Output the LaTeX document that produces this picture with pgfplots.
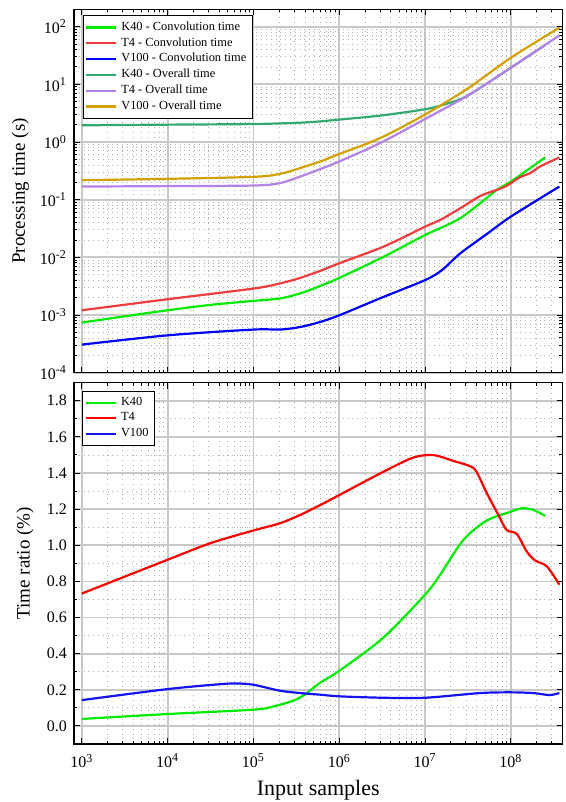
\documentclass[border=0pt]{standalone}
\usepackage{pgfplots}
\pgfplotsset{compat=1.18}
\usepackage{fontspec}
\setmainfont{Liberation Serif}
\definecolor{kconv}{RGB}{0,235,0}
\definecolor{tconv}{RGB}{240,60,60}
\definecolor{vconv}{RGB}{0,0,250}
\definecolor{kall}{RGB}{50,170,110}
\definecolor{tall}{RGB}{180,130,230}
\definecolor{vall}{RGB}{210,160,0}
\definecolor{kr}{RGB}{0,235,0}
\definecolor{tr}{RGB}{250,0,0}
\definecolor{vr}{RGB}{20,20,240}
\definecolor{majgrid}{RGB}{200,200,200}
\definecolor{mingrid}{RGB}{175,175,175}
\pgfplotsset{
  scale only axis, width=244.25pt,
  xmin=810, xmax=4e8,
  axis line style={line width=0.75pt},
  tick style={black, line width=0.5pt},
  major tick length=3pt, minor tick length=1.6pt,
  tick align=inside,
  grid=both,
  major grid style={majgrid, line width=0.9pt},
  minor grid style={mingrid, dotted, line width=0.45pt},
  tick label style={font=\fontsize{8}{9}\selectfont},
  label style={font=\fontsize{9.5}{11}\selectfont},
  legend cell align=left,
  legend style={draw=black, line width=0.5pt, font=\fontsize{6.2}{7}\selectfont, inner sep=1pt, row sep=-1.9pt},
  legend image code/.code={\draw[#1] (0pt,0pt) -- (15pt,0pt);},
  xtick={1e3,1e4,1e5,1e6,1e7,1e8},
  minor xtick={2e3,3e3,4e3,5e3,6e3,7e3,8e3,9e3,2e4,3e4,4e4,5e4,6e4,7e4,8e4,9e4,2e5,3e5,4e5,5e5,6e5,7e5,8e5,9e5,2e6,3e6,4e6,5e6,6e6,7e6,8e6,9e6,2e7,3e7,4e7,5e7,6e7,7e7,8e7,9e7,2e8,3e8},
  every axis plot/.append style={line width=1.1pt, smooth},
}
\begin{document}
\begin{tikzpicture}
\begin{axis}[xmode=log, log basis x=10, ymode=log, log basis y=10,
  at={(37pt,-4.65pt)}, anchor=north west, height=181.7pt,
  ymin=1e-4, ymax=200,
  ytick={1e-4,1e-3,1e-2,1e-1,1,10,100},
  minor ytick={2e-4,3e-4,4e-4,5e-4,6e-4,7e-4,8e-4,9e-4,2e-3,3e-3,4e-3,5e-3,6e-3,7e-3,8e-3,9e-3,2e-2,3e-2,4e-2,5e-2,6e-2,7e-2,8e-2,9e-2,0.2,0.3,0.4,0.5,0.6,0.7,0.8,0.9,2,3,4,5,6,7,8,9,20,30,40,50,60,70,80,90},
  yticklabels={10\textsuperscript{-4},10\textsuperscript{-3},10\textsuperscript{-2},10\textsuperscript{-1},10\textsuperscript{0},10\textsuperscript{1},10\textsuperscript{2}},
  xticklabels={},
  ylabel={Processing time (s)},
  ylabel style={at={(axis description cs:-0.11,0.5)}, anchor=center},
  legend style={at={(0,1)}, anchor=north west, xshift=4.3pt, yshift=-2.9pt}]
\addplot[kconv] table {
1000 7.4e-4
3162 9.5e-4
1e4 1.21e-3
3.16e4 1.5e-3
1e5 1.76e-3
2.04e5 1.94e-3
3.5e5 2.37e-3
6.02e5 3.2e-3
1e6 4.4e-3
3.27e6 1.02e-2
1e7 2.44e-2
1.5e7 3.2e-2
2.57e7 4.77e-2
4.4e7 8.7e-2
6.87e7 0.148
1e8 0.206
1.68e8 0.352
2.51e8 0.54
};
\addlegendentry{K40 - Convolution time}
\addplot[tconv] table {
1000 1.21e-3
1e4 1.88e-3
1e5 2.88e-3
2.04e5 3.53e-3
3.5e5 4.4e-3
6.02e5 5.85e-3
1e6 7.9e-3
3.27e6 1.53e-2
1e7 3.4e-2
1.5e7 4.45e-2
2.57e7 7.1e-2
4.4e7 0.116
6.87e7 0.148
8.97e7 0.174
1.28e8 0.246
1.68e8 0.288
2.19e8 0.376
3.68e8 0.54
};
\addlegendentry{T4 - Convolution time}
\addplot[vconv] table {
1000 3.07e-4
1e4 4.45e-4
1e5 5.6e-4
2.04e5 5.6e-4
3.5e5 6.2e-4
6.02e5 7.6e-4
1e6 9.9e-4
3.27e6 2.06e-3
1e7 4.03e-3
1.57e7 6.0e-3
2.57e7 1.17e-2
5.25e7 2.54e-2
1e8 5.09e-2
3.68e8 0.169
};
\addlegendentry{V100 - Convolution time}
\addplot[kall] table {
1000 1.95
1e4 2.0
1e5 2.05
3.16e5 2.15
6.02e5 2.28
1e6 2.45
3.0e6 2.87
1e7 3.7
1.78e7 4.6
3.16e7 6.4
1e8 19.4
2.51e8 48
};
\addlegendentry{K40 - Overall time}
\addplot[tall] table {
1000 0.169
1e4 0.172
1e5 0.176
2.04e5 0.194
3.5e5 0.252
6.02e5 0.34
1e6 0.46
3.0e6 0.96
1e7 2.5
3.16e7 6.4
1e8 19.4
3.68e8 70.6
};
\addlegendentry{T4 - Overall time}
\addplot[vall] table {
1000 0.218
1e4 0.23
1e5 0.249
2.04e5 0.28
3.5e5 0.353
6.02e5 0.46
1e6 0.62
3.0e6 1.17
1e7 3.0
3.16e7 8.5
1e8 28.9
3.68e8 96
};
\addlegendentry{V100 - Overall time}
\end{axis}
\begin{axis}[xmode=log, log basis x=10,
  at={(37pt,-191.35pt)}, anchor=north west, height=180.65pt,
  ymin=-0.1, ymax=1.9,
  ytick={0,0.2,0.4,0.6,0.8,1.0,1.2,1.4,1.6,1.8},
  minor ytick={-0.1,0.1,0.3,0.5,0.7,0.9,1.1,1.3,1.5,1.7},
  yticklabels={0.0,0.2,0.4,0.6,0.8,1.0,1.2,1.4,1.6,1.8},
  xticklabels={10\textsuperscript{3},10\textsuperscript{4},10\textsuperscript{5},10\textsuperscript{6},10\textsuperscript{7},10\textsuperscript{8}},
  xticklabel style={yshift=-1.5pt},
  xlabel={Input samples},
  xlabel style={font=\fontsize{11}{13}\selectfont, at={(axis description cs:0.5,-0.127)}, anchor=center},
  ylabel={Time ratio (\%)},
  ylabel style={at={(axis description cs:-0.1,0.5)}, anchor=center},
  legend style={at={(0,1)}, anchor=north west, xshift=4.15pt, yshift=-4pt}]
\addplot[kr] table {
1000 0.0386
1e4 0.066
1e5 0.09
1.71e5 0.108
2.92e5 0.14
4.0e5 0.175
6.02e5 0.24
1e6 0.305
3.27e6 0.489
1e7 0.727
1.5e7 0.837
2.8e7 1.03
5.25e7 1.137
1e8 1.186
1.34e8 1.205
1.83e8 1.196
2.51e8 1.163
};
\addlegendentry{K40}
\addplot[tr] table {
1000 0.733
1e4 0.92
3.16e4 1.012
1e5 1.082
2.04e5 1.122
3.5e5 1.168
6.02e5 1.223
1e6 1.278
3.27e6 1.407
7.33e6 1.486
1.26e7 1.499
2.14e7 1.467
3.35e7 1.438
3.98e7 1.407
5.25e7 1.288
7.16e7 1.168
8.91e7 1.085
1.17e8 1.063
1.53e8 0.966
1.92e8 0.916
2.63e8 0.883
3.68e8 0.782
};
\addlegendentry{T4}
\addplot[vr] table {
1000 0.143
1e4 0.204
4.07e4 0.231
6.4e4 0.235
1e5 0.228
2.04e5 0.195
3.5e5 0.182
6.02e5 0.173
1e6 0.164
3.27e6 0.156
1e7 0.156
4.37e7 0.182
1e8 0.186
1.83e8 0.182
2.82e8 0.171
3.68e8 0.182
};
\addlegendentry{V100}
\end{axis}
\pgfresetboundingbox
\path[use as bounding box] (0,0) rectangle (283pt,-401pt);
\end{tikzpicture}
\end{document}
